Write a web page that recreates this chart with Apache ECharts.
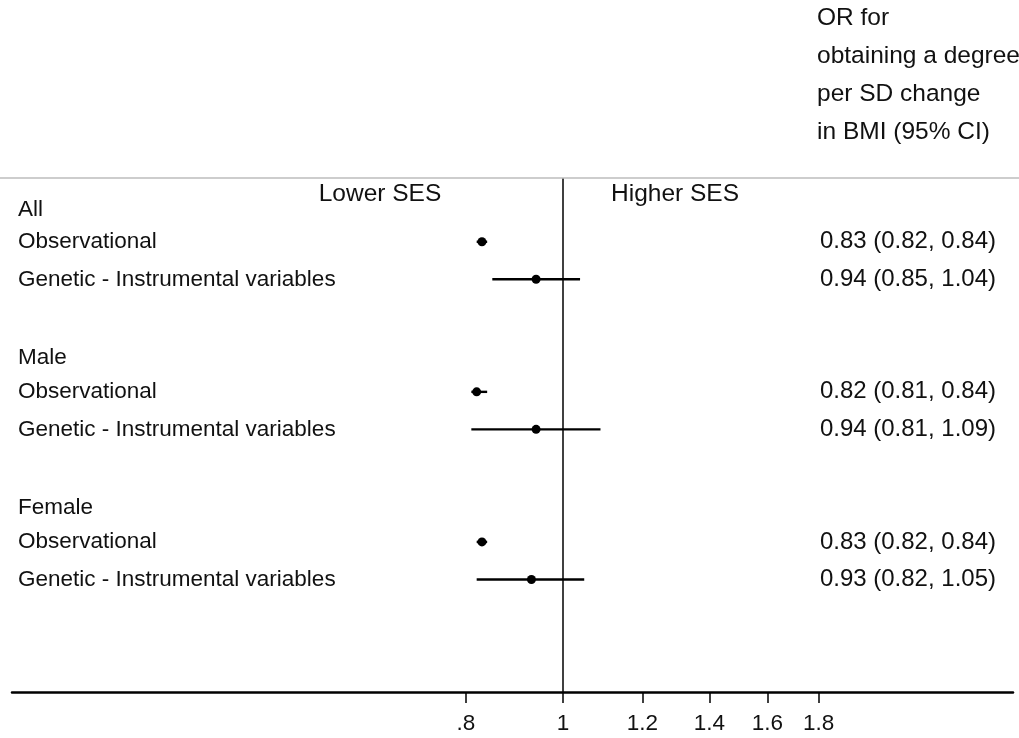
<!DOCTYPE html>
<html>
<head>
<meta charset="utf-8">
<script src="https://cdn.jsdelivr.net/npm/echarts@6/dist/echarts.min.js"></script>
<style>html,body{margin:0;padding:0;background:#fff;}#c{width:1019px;height:738px;}</style>
</head>
<body>
<div id="c"></div>
<script>
// Row labels (row index = position from top)
const rowIndex = [0, 1, 2, 4, 5, 6, 8, 9, 10];
const rowLabels = ['All', 'Observational', 'Genetic - Instrumental variables',
  'Male', 'Observational', 'Genetic - Instrumental variables',
  'Female', 'Observational', 'Genetic - Instrumental variables'];
const headingRows = [0, 4, 8];
// Estimates
const estRows = [1, 2, 5, 6, 9, 10];
const estOR = [0.83, 0.94, 0.82, 0.94, 0.83, 0.93];
const ciLow = [0.82, 0.85, 0.81, 0.81, 0.82, 0.82];
const ciHigh = [0.84, 1.04, 0.84, 1.09, 0.84, 1.05];
const estText = ['0.83 (0.82, 0.84)', '0.94 (0.85, 1.04)', '0.82 (0.81, 0.84)',
  '0.94 (0.81, 1.09)', '0.83 (0.82, 0.84)', '0.93 (0.82, 1.05)'];
// Axis ticks (log scale)
const tickValues = [0.8, 1, 1.2, 1.4, 1.6, 1.8];
const tickLabels = ['.8', '1', '1.2', '1.4', '1.6', '1.8'];
const headerLines = ['OR for', 'obtaining a degree', 'per SD change', 'in BMI (95% CI)'];

const FONT = '"Liberation Sans", Arial, sans-serif';
const lnTicks = tickValues.map(v => Math.log(v));
const findIdx = (arr, v) => arr.findIndex(a => Math.abs(a - v) < 1e-6);

const ciData = estRows.map((r, i) => [Math.log(estOR[i]), r, Math.log(ciLow[i]), Math.log(ciHigh[i])]);

const chart = echarts.init(document.getElementById('c'), null, {renderer: 'canvas'});
chart.setOption({
  animation: false,
  backgroundColor: '#fff',
  textStyle: {fontFamily: FONT},
  title: {
    text: headerLines.join('\n'),
    left: 817, top: -1, padding: 0,
    textStyle: {fontFamily: FONT, fontSize: 24.5, fontWeight: 'normal', color: '#111', lineHeight: 38}
  },
  grid: {left: 12, right: 6, top: 178, bottom: 46},
  xAxis: {
    type: 'value',
    min: (12 - 563) / 435,
    max: (1013 - 563) / 435,
    splitLine: {show: false},
    axisLine: {show: true, onZero: false, lineStyle: {color: '#000', width: 2.5}},
    axisTick: {show: true, customValues: lnTicks, length: 11, lineStyle: {color: '#000', width: 1.5}},
    axisLabel: {
      customValues: lnTicks, margin: 20,
      fontFamily: '"Liberation Sans Narrow", "Liberation Sans", Arial, sans-serif',
      fontSize: 22.5, color: '#111',
      formatter: v => { const i = findIdx(lnTicks, v); return i >= 0 ? tickLabels[i] : ''; }
    }
  },
  yAxis: [{
    type: 'value', inverse: true, min: -0.7, max: 13, position: 'left',
    splitLine: {show: false}, axisLine: {show: false}, axisTick: {show: false},
    axisLabel: {
      inside: true, margin: 6, customValues: rowIndex, fontSize: 22.5, color: '#111', fontFamily: FONT,
      formatter: v => {
        const i = findIdx(rowIndex, v);
        if (i < 0) return '';
        if (v === 0) return '{h0|' + rowLabels[i] + '}';
        if (headingRows.indexOf(v) >= 0) return '{h|' + rowLabels[i] + '}';
        return rowLabels[i];
      },
      rich: {
        h0: {fontSize: 22.5, color: '#111', fontFamily: FONT, padding: [12, 0, 0, 0]},
        h: {fontSize: 22.5, color: '#111', fontFamily: FONT, padding: [6, 0, 0, 0]}
      }
    }
  }, {
    type: 'value', inverse: true, min: -0.7, max: 13, position: 'right',
    splitLine: {show: false}, axisLine: {show: false}, axisTick: {show: false},
    axisLabel: {
      inside: true, margin: 17, customValues: estRows, fontSize: 24, color: '#111', fontFamily: FONT,
      formatter: v => { const i = findIdx(estRows, v); return i >= 0 ? estText[i] : ''; }
    }
  }],
  graphic: [
    {type: 'line', shape: {x1: 0, y1: 178, x2: 1019, y2: 178}, style: {stroke: '#bdbdbd', lineWidth: 1.5}, z: 10},
    {type: 'text', x: 380, y: 194, style: {text: 'Lower SES', font: '24.5px ' + FONT, fill: '#111', textAlign: 'center', textVerticalAlign: 'middle'}},
    {type: 'text', x: 675, y: 194, style: {text: 'Higher SES', font: '24.5px ' + FONT, fill: '#111', textAlign: 'center', textVerticalAlign: 'middle'}}
  ],
  series: [{
    type: 'custom',
    data: ciData,
    encode: {x: 0, y: 1},
    renderItem: (params, api) => {
      const y = api.value(1);
      const pe = api.coord([api.value(0), y]);
      const pl = api.coord([api.value(2), y]);
      const ph = api.coord([api.value(3), y]);
      return {
        type: 'group',
        children: [
          {type: 'line', shape: {x1: pl[0], y1: pl[1], x2: ph[0], y2: ph[1]}, style: {stroke: '#000', lineWidth: 2.4}},
          {type: 'circle', shape: {cx: pe[0], cy: pe[1], r: 4.5}, style: {fill: '#000'}}
        ]
      };
    },
    markLine: {
      silent: true, symbol: 'none', label: {show: false},
      lineStyle: {color: '#000', width: 1.5, type: 'solid'},
      data: [{xAxis: 0}]
    }
  }]
});
</script>
</body>
</html>
